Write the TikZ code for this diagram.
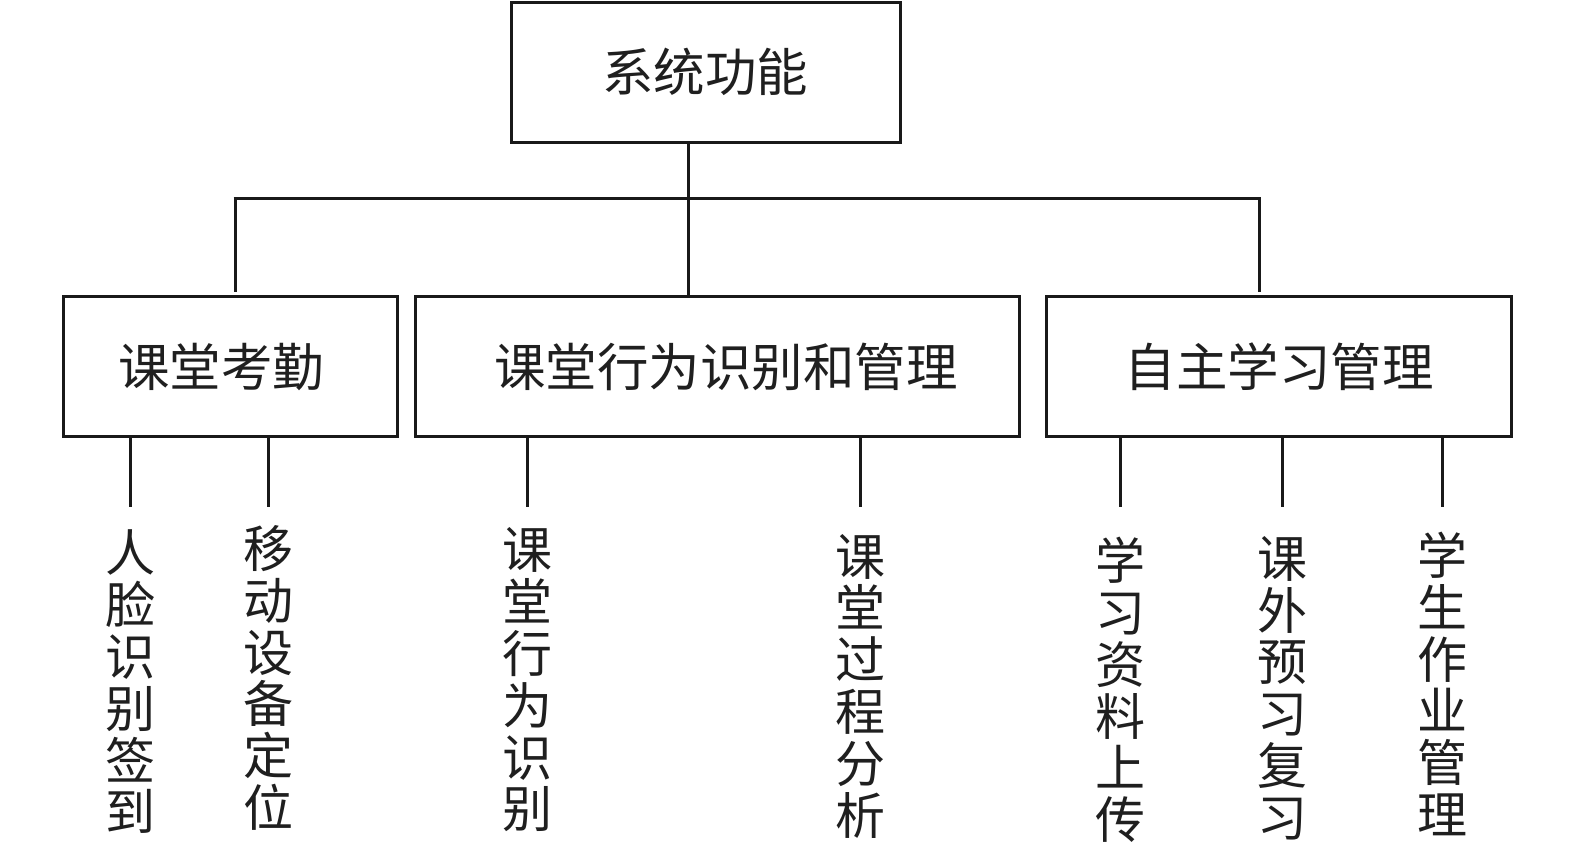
\documentclass[tikz,border=0pt]{standalone}
\usepackage{fontspec}
\newfontfamily\cjk{Noto Sans CJK SC}
\begin{document}
\begin{tikzpicture}[x=1pt,y=-1pt,
  box/.style={draw=black!90,line width=3pt,inner sep=0pt,minimum height=140pt},
  lbl/.style={font=\cjk\fontsize{51.5}{52}\selectfont,inner sep=0pt,text=black!88},
  vlbl/.style={font=\cjk\fontsize{50}{51.8}\selectfont,inner sep=0pt,align=center,text=black!88},
  conn/.style={line width=3pt,draw=black!90}]
\useasboundingbox (0,0) rectangle (1575,846);
% boxes
\node[box,minimum width=389pt] (top) at (705.5,72) {};
\node[box,minimum width=334pt] (att) at (230,366) {};
\node[box,minimum width=604pt] (beh) at (717,366) {};
\node[box,minimum width=465pt] (self) at (1278.5,366) {};
% box texts
\node[lbl] (ttop) at (705,72) {系统功能};
\node[lbl] (tatt) at (221,367) {课堂考勤};
\node[lbl] (tbeh) at (726,367) {课堂行为识别和管理};
\node[lbl] (tself) at (1279,367) {自主学习管理};
% leaves
\node[vlbl] (l1) at (130,682) {人\\脸\\识\\别\\签\\到};
\node[vlbl] (l2) at (268,678) {移\\动\\设\\备\\定\\位};
\node[vlbl] (l3) at (527,680) {课\\堂\\行\\为\\识\\别};
\node[vlbl] (l4) at (860,686) {课\\堂\\过\\程\\分\\析};
\node[vlbl] (l5) at (1120,690) {学\\习\\资\\料\\上\\传};
\node[vlbl] (l6) at (1282,688) {课\\外\\预\\习\\复\\习};
\node[vlbl] (l7) at (1442,684) {学\\生\\作\\业\\管\\理};
% bus
\coordinate (jc) at (688,198);
\coordinate (jl) at (235,198);
\coordinate (jr) at (1259,198);
\coordinate (stopl) at (0,292);
\coordinate (lowend) at (0,507);
\draw[conn] (top.south -| jc) -- (beh.north -| jc);
\draw[conn] ([xshift=-1.5pt]jl) -- ([xshift=1.5pt]jr);
\draw[conn] (jl) -- (jl |- stopl);
\draw[conn] (jr) -- (jr |- stopl);
% lower stubs
\draw[conn] (att.south -| l1) -- (l1 |- lowend);
\draw[conn] (att.south -| l2) -- (l2 |- lowend);
\draw[conn] (beh.south -| l3) -- (l3 |- lowend);
\draw[conn] (beh.south -| l4) -- (l4 |- lowend);
\draw[conn] (self.south -| l5) -- (l5 |- lowend);
\draw[conn] (self.south -| l6) -- (l6 |- lowend);
\draw[conn] (self.south -| l7) -- (l7 |- lowend);
\end{tikzpicture}
\end{document}
